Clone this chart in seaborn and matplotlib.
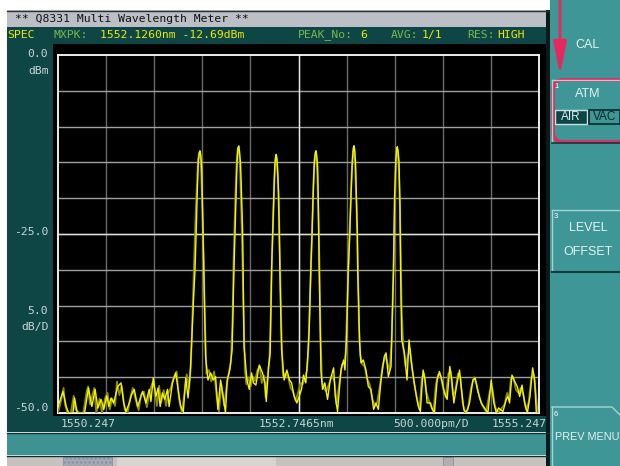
import matplotlib
matplotlib.use("Agg")
import matplotlib.pyplot as plt
from matplotlib.patches import Rectangle, FancyBboxPatch
import seaborn as sns

# ---------------- data ----------------
x_start, x_stop = 1550.247, 1555.247      # nm
x_center_label = "1552.7465nm"
y_top, y_bottom = 0.0, -50.0              # dBm
x_divs, y_divs = 10, 10

# bright trace (A)
wl_a = [1550.247, 1550.299, 1550.333, 1550.357, 1550.402, 1550.419, 1550.447, 1550.523,
        1550.564, 1550.599, 1550.633, 1550.661, 1550.695, 1550.723, 1550.754, 1550.775,
        1550.799, 1550.826, 1550.868, 1550.902, 1550.930, 1550.954, 1550.988, 1551.013,
        1551.040, 1551.075, 1551.126, 1551.161, 1551.195, 1551.213, 1551.237, 1551.264,
        1551.288, 1551.309, 1551.333, 1551.357, 1551.385, 1551.402, 1551.437, 1551.471,
        1551.495, 1551.523, 1551.550, 1551.575, 1551.599, 1551.619,
        1551.637, 1551.653, 1551.671, 1551.683, 1551.693, 1551.705, 1551.716, 1551.723,
        1551.731, 1551.741, 1551.749, 1551.756, 1551.764, 1551.781,
        1551.806, 1551.833, 1551.861, 1551.885, 1551.909, 1551.937, 1551.964, 1551.988,
        1552.006, 1552.033,
        1552.057, 1552.068, 1552.076, 1552.087, 1552.097, 1552.108, 1552.119, 1552.126,
        1552.133, 1552.145, 1552.156, 1552.166, 1552.171, 1552.181,
        1552.211, 1552.235, 1552.259, 1552.280, 1552.304, 1552.339, 1552.373, 1552.398,
        1552.412, 1552.436,
        1552.453, 1552.467, 1552.478, 1552.488, 1552.500, 1552.510, 1552.516, 1552.523,
        1552.528, 1552.540, 1552.548, 1552.553, 1552.571,
        1552.598, 1552.626, 1552.654, 1552.675, 1552.702, 1552.730, 1552.754, 1552.778,
        1552.799, 1552.823, 1552.841,
        1552.858, 1552.875, 1552.888, 1552.898, 1552.911, 1552.922, 1552.929, 1552.936,
        1552.946, 1552.953, 1552.958, 1552.962, 1552.980,
        1552.997, 1553.021, 1553.049, 1553.077, 1553.112, 1553.129, 1553.153, 1553.188,
        1553.216, 1553.230,
        1553.247, 1553.264, 1553.280, 1553.292, 1553.306, 1553.318, 1553.324, 1553.331,
        1553.340, 1553.347, 1553.358, 1553.362, 1553.372, 1553.382,
        1553.396, 1553.421, 1553.448, 1553.473, 1553.500, 1553.528, 1553.552, 1553.577,
        1553.605, 1553.639, 1553.657, 1553.681, 1553.709,
        1553.726, 1553.735, 1553.740, 1553.745, 1553.757, 1553.768, 1553.774, 1553.781,
        1553.792, 1553.802, 1553.805, 1553.808, 1553.820,
        1553.848, 1553.875, 1553.896, 1553.917, 1553.945, 1553.973, 1553.994, 1554.014,
        1554.042, 1554.063, 1554.084, 1554.119, 1554.132, 1554.160, 1554.188, 1554.212,
        1554.237, 1554.264, 1554.292, 1554.320, 1554.341, 1554.362, 1554.389, 1554.421,
        1554.438, 1554.466, 1554.490, 1554.525, 1554.560, 1554.584, 1554.612, 1554.646,
        1554.681, 1554.716, 1554.750, 1554.778, 1554.803, 1554.827, 1554.872, 1554.907,
        1554.924, 1554.941, 1554.966, 1554.994, 1555.021, 1555.046, 1555.070, 1555.098,
        1555.126, 1555.153, 1555.181, 1555.202, 1555.219, 1555.247]
lvl_a = [-49.1, -47.0, -49.1, -50.0, -50.0, -47.9, -50.0, -50.0,
         -46.5, -49.1, -46.7, -49.3, -48.1, -49.5, -47.6, -49.1,
         -47.9, -48.6, -46.3, -45.8, -48.6, -49.8, -48.6, -47.4,
         -46.7, -49.1, -47.0, -48.6, -46.7, -48.4, -45.1, -47.7,
         -46.5, -49.1, -47.2, -48.1, -46.7, -49.1, -45.8, -44.4,
         -46.7, -49.1, -49.8, -45.1, -47.9, -44.9,
         -40.0, -35.0, -30.0, -25.0, -20.0, -15.0, -13.6, -13.37,
         -14.0, -15.8, -21.0, -26.0, -30.0, -42.1,
         -45.4, -44.4, -45.4, -44.9, -49.5, -45.4, -47.7, -50.0,
         -45.4, -44.0,
         -41.2, -35.0, -30.0, -25.0, -20.0, -15.0, -12.9, -12.69,
         -13.4, -15.2, -20.0, -24.5, -30.0, -40.7,
         -45.4, -46.7, -44.4, -45.8, -46.1, -43.3, -44.4, -45.8,
         -48.4, -43.5,
         -41.6, -30.0, -25.0, -20.0, -15.5, -14.1, -13.87, -14.5,
         -15.5, -19.3, -25.8, -30.0, -41.2,
         -45.4, -44.0, -45.4, -45.8, -47.7, -48.6, -47.7, -46.7,
         -44.7, -45.8, -42.6,
         -38.4, -30.0, -25.0, -20.0, -15.0, -13.6, -13.37, -14.0,
         -15.6, -20.5, -25.5, -30.0, -44.0,
         -46.7, -45.8, -48.1, -45.4, -43.7, -47.7, -49.8, -44.0,
         -42.6, -44.0,
         -39.3, -30.0, -25.0, -20.0, -15.0, -12.9, -12.67, -13.2,
         -15.0, -19.0, -24.5, -30.0, -34.6, -40.2,
         -43.0, -42.6, -44.0, -46.3, -46.7, -49.5, -48.6, -49.5,
         -45.4, -42.1, -41.6, -44.9, -43.5,
         -34.6, -30.0, -25.0, -20.0, -15.0, -13.1, -12.81, -13.3,
         -15.0, -21.0, -25.0, -30.0, -39.8,
         -41.6, -45.4, -39.8, -42.6, -45.4, -47.7, -49.1, -49.8,
         -44.0, -45.4, -48.6, -48.6, -49.3, -50.0, -45.4, -44.2,
         -45.4, -47.2, -48.1, -43.5, -45.4, -48.6, -46.3, -44.0,
         -46.3, -49.5, -50.0, -48.6, -45.4, -45.1, -47.0, -48.6,
         -49.3, -50.0, -45.4, -48.6, -50.0, -49.3, -49.8, -48.1,
         -47.7, -48.6, -44.7, -45.6, -46.3, -47.7, -46.1, -48.6,
         -50.0, -47.7, -43.7, -45.4, -50.0, -50.0]

# dim trace (B)
wl_b = [1550.247, 1550.275, 1550.305, 1550.320, 1550.345, 1550.380, 1550.410, 1550.428,
        1550.470, 1550.510, 1550.545, 1550.560, 1550.580, 1550.610, 1550.625, 1550.645,
        1550.680, 1550.705, 1550.740, 1550.762, 1550.785, 1550.810, 1550.840, 1550.860,
        1550.885, 1550.910, 1550.940, 1550.970, 1551.000, 1551.025, 1551.050, 1551.085,
        1551.110, 1551.140, 1551.170, 1551.200, 1551.228, 1551.250, 1551.275, 1551.298,
        1551.320, 1551.345, 1551.370, 1551.392, 1551.420, 1551.450, 1551.480, 1551.505,
        1551.535, 1551.565, 1551.585, 1551.610, 1551.628,
        1551.645, 1551.662, 1551.676, 1551.690, 1551.703, 1551.713, 1551.721, 1551.728,
        1551.738, 1551.750, 1551.762, 1551.772, 1551.790,
        1551.815, 1551.840, 1551.870, 1551.895, 1551.920, 1551.945, 1551.975, 1552.000,
        1552.020, 1552.045,
        1552.062, 1552.072, 1552.084, 1552.095, 1552.106, 1552.116, 1552.124, 1552.131,
        1552.141, 1552.153, 1552.164, 1552.175, 1552.190,
        1552.205, 1552.225, 1552.250, 1552.270, 1552.295, 1552.320, 1552.345, 1552.365,
        1552.390, 1552.405, 1552.425, 1552.445,
        1552.460, 1552.472, 1552.484, 1552.496, 1552.507, 1552.514, 1552.521, 1552.532,
        1552.545, 1552.556, 1552.566, 1552.585,
        1552.610, 1552.640, 1552.665, 1552.690, 1552.718, 1552.745, 1552.768, 1552.790,
        1552.812, 1552.835, 1552.850,
        1552.866, 1552.880, 1552.893, 1552.905, 1552.917, 1552.926, 1552.933, 1552.943,
        1552.955, 1552.966, 1552.975, 1552.990,
        1553.010, 1553.035, 1553.062, 1553.095, 1553.120, 1553.142, 1553.170, 1553.200,
        1553.222, 1553.238,
        1553.255, 1553.272, 1553.287, 1553.300, 1553.313, 1553.321, 1553.328, 1553.337,
        1553.350, 1553.362, 1553.375, 1553.390,
        1553.410, 1553.435, 1553.460, 1553.487, 1553.515, 1553.540, 1553.565, 1553.590,
        1553.620, 1553.648, 1553.670, 1553.695, 1553.715,
        1553.730, 1553.740, 1553.750, 1553.760, 1553.768, 1553.775, 1553.783, 1553.792,
        1553.802, 1553.810, 1553.818, 1553.835,
        1553.860, 1553.885, 1553.905, 1553.930, 1553.958, 1553.985, 1554.005, 1554.030,
        1554.052, 1554.075, 1554.100, 1554.125, 1554.150, 1554.175, 1554.200, 1554.225,
        1554.250, 1554.278, 1554.305, 1554.330, 1554.352, 1554.375, 1554.405, 1554.430,
        1554.452, 1554.478, 1554.508, 1554.540, 1554.572, 1554.598, 1554.628, 1554.660,
        1554.698, 1554.735, 1554.760, 1554.790, 1554.815, 1554.850, 1554.890, 1554.915,
        1554.935, 1554.955, 1554.980, 1555.008, 1555.035, 1555.058, 1555.085, 1555.112,
        1555.140, 1555.168, 1555.192, 1555.212, 1555.232, 1555.247]
lvl_b = [-50.0, -48.5, -46.5, -48.8, -50.0, -50.0, -47.6, -49.5,
         -50.0, -50.0, -47.0, -46.3, -48.8, -47.2, -46.5, -50.0,
         -48.0, -50.0, -47.8, -47.2, -49.5, -48.0, -49.0, -45.6,
         -47.5, -46.2, -49.5, -50.0, -47.8, -46.5, -47.9, -49.6,
         -47.5, -47.0, -49.2, -47.0, -45.8, -46.5, -49.0, -46.2,
         -48.5, -46.8, -49.0, -47.2, -46.5, -45.0, -44.2, -48.0,
         -50.0, -46.8, -44.6, -46.5, -43.5,
         -36.0, -29.0, -23.0, -18.5, -14.6, -13.8, -13.6, -14.2,
         -17.0, -23.0, -29.0, -36.0, -44.5,
         -44.0, -45.6, -44.2, -47.5, -49.8, -46.0, -49.0, -46.2,
         -44.6, -42.8,
         -36.5, -29.0, -23.0, -18.0, -14.5, -13.1, -12.9, -13.6,
         -16.5, -22.0, -28.0, -35.5, -44.0,
         -46.0, -45.0, -46.3, -44.9, -45.5, -44.0, -43.5, -45.8,
         -44.8, -47.8, -45.2, -42.5,
         -35.5, -28.0, -22.5, -17.5, -14.6, -14.2, -14.8, -17.0,
         -22.5, -29.5, -37.0, -44.8,
         -44.5, -45.0, -46.5, -47.0, -48.3, -47.0, -45.8, -46.0,
         -45.2, -44.0, -41.0,
         -34.0, -27.5, -22.0, -17.0, -14.2, -13.7, -14.2, -16.8,
         -23.0, -30.0, -38.5, -45.5,
         -46.5, -47.0, -46.0, -44.8, -45.5, -48.8, -46.0, -43.2,
         -43.0, -41.5,
         -34.5, -27.0, -21.5, -16.5, -13.5, -13.0, -13.5, -15.8,
         -21.0, -27.5, -37.5, -42.0,
         -43.2, -43.5, -45.2, -46.0, -48.0, -49.0, -48.5, -46.5,
         -43.5, -42.0, -43.0, -44.0, -40.0,
         -32.0, -26.5, -20.5, -15.6, -13.6, -13.2, -13.8, -16.5,
         -22.0, -28.0, -35.0, -40.5,
         -43.5, -42.0, -41.0, -44.0, -46.5, -48.5, -49.5, -45.0,
         -44.5, -47.0, -48.2, -49.0, -49.8, -46.0, -44.6, -44.8,
         -46.5, -47.8, -44.5, -44.2, -47.5, -47.0, -44.5, -45.0,
         -48.5, -50.0, -49.5, -46.5, -45.0, -46.0, -47.8, -49.0,
         -49.8, -47.0, -46.5, -49.0, -50.0, -49.5, -48.8, -47.2,
         -48.0, -45.2, -45.0, -46.8, -47.2, -46.5, -47.5, -49.5,
         -48.5, -45.0, -44.6, -47.0, -50.0, -50.0]

# ---------------- figure ----------------
W, H = 620, 466
fig = plt.figure(figsize=(W / 100, H / 100), dpi=100, facecolor="white")

bg = fig.add_axes([0, 0, 1, 1])
bg.set_xlim(0, W)
bg.set_ylim(H, 0)
bg.axis("off")

DARK = "#0e4646"
PANEL = "#3f9696"
LIGHT = "#c8d6d6"
YEL = "#ecec00"
GRN = "#7ab848"
MONO = "DejaVu Sans Mono"
SANS = "Liberation Sans"

def rect(x, y, w, h, **kw):
    bg.add_patch(Rectangle((x, y), w, h, **kw))

# screen regions
rect(7, 10, 541, 17, fc="#bcc0c6", ec="none")
bg.plot([7, 548], [10.5, 10.5], color="#303030", lw=1)
rect(7, 27, 541, 405, fc=DARK, ec="none")
rect(53, 44, 493, 372, fc="black", ec="none")
rect(7, 433, 541, 22, fc="#3e9292", ec="none")
bg.plot([7, 548], [432.5, 432.5], color="#0a3030", lw=1)
bg.plot([7, 548], [455.5, 455.5], color="#0a3030", lw=1)
rect(7, 456, 541, 10, fc="#c6c2be", ec="none")
rect(117, 457, 159, 9, fc="#d8d4d0", ec="none")
rect(63, 457, 49, 9, fc="#a4a8b0", ec="#8090a8", lw=0.6, hatch="....")
rect(443, 457, 10, 9, fc="#b0b0b0", ec="#909090", lw=0.6)
rect(546, 10, 4, 456, fc="#0a1a1a", ec="none")
rect(550, 0, 70, 466, fc=PANEL, ec="none")

# right panel buttons (bevel lines)
BEV_L, BEV_D = "#a8d4d4", "#123c3c"
bg.plot([552, 620], [80, 80], color=BEV_L, lw=1)
bg.plot([552, 552], [80, 142], color=BEV_L, lw=1)
bg.plot([552, 620], [143, 143], color=BEV_D, lw=1.2)
bg.plot([552, 620], [210, 210], color=BEV_L, lw=1)
bg.plot([552, 552], [210, 272], color=BEV_L, lw=1)
bg.plot([552, 620], [272, 272], color=BEV_D, lw=1.5)
bg.plot([552, 612, 620], [407, 407, 415], color=BEV_L, lw=1)
bg.plot([552, 552], [407, 466], color=BEV_L, lw=1)

bt = dict(color="#e4f2f2", fontsize=9, family=SANS, ha="center", va="center")
bg.text(587, 45, "CAL", **bt)
bg.text(588, 94, "ATM", **bt)
bg.text(588, 228, "LEVEL", **bt)
bg.text(588, 252, "OFFSET", **bt)
bg.text(555, 437, "PREV MENU", color="#e4f2f2", fontsize=7.8, family=SANS,
        ha="left", va="center")
sm = dict(color="white", fontsize=5.5, family=SANS, ha="left", va="center")
bg.text(554, 87, "1", **sm)
bg.text(554, 217, "3", **sm)
bg.text(554, 414, "6", **sm)
rect(555, 110, 32, 14, fc=DARK, ec="#c8e0e0", lw=1)
rect(589, 110, 31, 14, fc=PANEL, ec="#0a2a2a", lw=1.2)
bg.text(571, 117.5, "AIR", color="#d8f0f0", fontsize=8.5, family=SANS, ha="center", va="center")
bg.text(605, 117.5, "VAC", color="#0a2a2a", fontsize=8.5, family=SANS, ha="center", va="center")

# red annotation
RED = "#e6285e"
bg.add_patch(FancyBboxPatch((553, 80), 80, 62, boxstyle="round,pad=0,rounding_size=10",
                            fill=False, ec=RED, lw=2.6))
bg.annotate("", xy=(560, 75), xytext=(560, 0),
            arrowprops=dict(arrowstyle="-|>,head_width=0.2,head_length=1.0",
                            color=RED, lw=2.0, mutation_scale=20, shrinkA=0, shrinkB=0))

# header texts
mt = dict(family=MONO, fontsize=8.2, va="center", ha="left")
bg.text(15, 19, "** Q8331 Multi Wavelength Meter **", color="#101010", **mt)
bg.text(7, 35, "SPEC", color=YEL, **mt)
bg.text(54, 35, "MXPK:", color=GRN, **mt)
bg.text(100, 35, "1552.1260nm -12.69dBm", color=YEL, **mt)
bg.text(298, 35, "PEAK_No:", color=GRN, **mt)
bg.text(360, 35, "6", color=YEL, **mt)
bg.text(391, 35, "AVG:", color=GRN, **mt)
bg.text(422, 35, "1/1", color=YEL, **mt)
bg.text(467, 35, "RES:", color=GRN, **mt)
bg.text(497, 35, "HIGH", color=YEL, **mt)

# axis annotations
yt = dict(family=MONO, fontsize=8.2, va="center", ha="right", color=LIGHT)
bg.text(48, 54, f"{y_top:.1f}", **yt)
bg.text(49, 71, "dBm", **yt)
bg.text(48, 232, f"{(y_top + y_bottom) / 2:.1f}", **yt)
bg.text(48, 311, f"{(y_top - y_bottom) / y_divs:.1f}", **yt)
bg.text(49, 327, "dB/D", **yt)
bg.text(48, 408, f"{y_bottom:.1f}", **yt)
xt = dict(family=MONO, fontsize=8.2, va="center", color=LIGHT)
bg.text(61, 424, f"{x_start:.3f}", ha="left", **xt)
bg.text(259, 424, x_center_label, ha="left", **xt)
bg.text(393, 424, f"{(x_stop - x_start) / x_divs * 1000:.3f}pm/D", ha="left", **xt)
bg.text(547, 424, f"{x_stop:.3f}", ha="right", **xt)

# ---------------- plot area ----------------
L, T, R, B = 58, 55, 539, 413
ax = fig.add_axes([L / W, 1 - B / H, (R - L) / W, (B - T) / H])
ax.set_facecolor("black")
ax.set_xlim(x_start, x_stop)
ax.set_ylim(y_bottom, y_top)
xs = [x_start + i * (x_stop - x_start) / x_divs for i in range(x_divs + 1)]
ys = [y_bottom + i * (y_top - y_bottom) / y_divs for i in range(y_divs + 1)]
for v in xs[1:-1]:
    ax.axvline(v, color="#6a6a6a", lw=1.0, zorder=1)
for v in ys[1:-1]:
    ax.axhline(v, color="#a0a0a0", lw=1.0, zorder=1)
ax.axvline(xs[5], color="#e8e8e8", lw=1.0, zorder=1)
ax.axhline(ys[5], color="#e0e0e0", lw=1.0, zorder=1)
ax.set_xticks([])
ax.set_yticks([])
for s in ax.spines.values():
    s.set_color("white")
    s.set_linewidth(1.3)
    s.set_zorder(2)

sns.lineplot(x=wl_b, y=lvl_b, ax=ax, color="#8c8c00", lw=1.3, estimator=None,
             sort=False, zorder=3)
sns.lineplot(x=wl_a, y=lvl_a, ax=ax, color="#f4f400", lw=1.0, estimator=None,
             sort=False, zorder=4)
ax.set_xlabel("")
ax.set_ylabel("")

fig.savefig("out.png", dpi=100, facecolor="white")
